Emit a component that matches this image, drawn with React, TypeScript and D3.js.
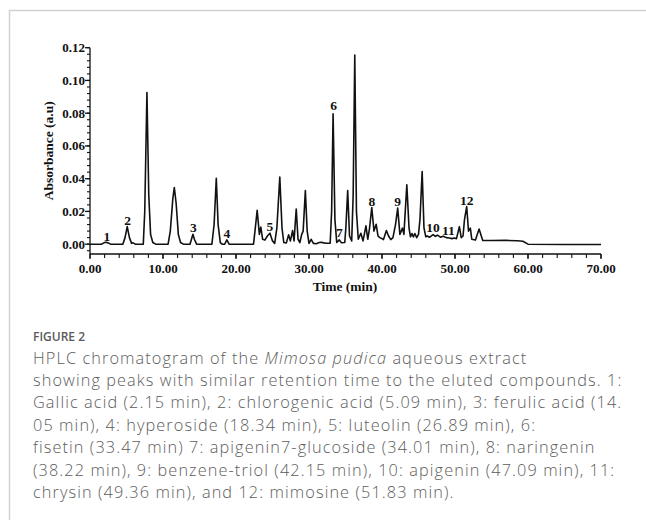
import React, { useEffect, useRef } from "react";
import * as d3 from "d3";

// chromatogram trace, [time (min), absorbance (a.u)]
const trace: [number, number][] = [
  [0, 0], [1.6, 0], [1.9, 0.0008], [2.15, 0.0012], [2.5, 0.0008], [2.8, 0],
  [4.5, 0], [4.8, 0.004], [5.1, 0.0107], [5.4, 0.004], [5.7, 0.0005], [5.9, 0.0008], [6.2, 0],
  [7.3, 0], [7.5, 0.02], [7.8, 0.0926], [8.05, 0.03], [8.3, 0.006], [8.6, 0.001], [9.0, 0],
  [10.7, 0], [11.0, 0.008], [11.35, 0.028], [11.55, 0.0346], [11.8, 0.025], [12.1, 0.006], [12.4, 0.001], [12.8, 0],
  [13.7, 0], [13.9, 0.003], [14.1, 0.006], [14.3, 0.003], [14.6, 0],
  [16.7, 0], [17.0, 0.012], [17.3, 0.0403], [17.55, 0.012], [17.85, 0.001], [18.1, 0],
  [18.45, 0], [18.75, 0.0026], [19.05, 0],
  [22.4, 0], [22.6, 0.008], [22.9, 0.0207], [23.2, 0.006], [23.4, 0.0104], [23.65, 0.003],
  [23.95, 0.0025], [24.3, 0.005], [24.65, 0.0067], [25.0, 0.002], [25.3, 0.0005],
  [25.6, 0.01], [26.0, 0.041], [26.3, 0.01], [26.55, 0.001], [26.9, 0.0008], [27.2, 0.0057],
  [27.45, 0.002], [27.75, 0.0083], [27.95, 0.002], [28.25, 0.0214], [28.5, 0.003], [28.75, 0.001],
  [29.0, 0.006], [29.2, 0.008], [29.5, 0.0327], [29.75, 0.008], [30.0, 0.0005], [30.3, 0.003],
  [30.6, 0.0005], [31.0, 0.0003], [31.4, 0.001], [31.7, 0.0012], [32.0, 0.0008], [32.4, 0.0006],
  [32.9, 0.0006], [33.1, 0.02], [33.3, 0.0796], [33.55, 0.015], [33.8, 0.001], [34.15, 0.0026],
  [34.45, 0.0009], [34.9, 0.001], [35.05, 0.01], [35.3, 0.0327], [35.55, 0.005], [35.85, 0.002],
  [36.05, 0.03], [36.27, 0.1155], [36.5, 0.02], [36.75, 0.003], [37.1, 0.0067], [37.4, 0.002],
  [37.8, 0.0112], [38.05, 0.003], [38.3, 0.01], [38.6, 0.0224], [38.9, 0.008], [39.2, 0.0122],
  [39.45, 0.005], [39.7, 0.004], [39.95, 0.0035], [40.2, 0.0028], [40.6, 0.0083], [40.9, 0.005],
  [41.2, 0.0028], [41.5, 0.004], [41.85, 0.012], [42.15, 0.022], [42.45, 0.006], [42.8, 0.0098],
  [43.0, 0.006], [43.4, 0.0362], [43.7, 0.01], [43.9, 0.0045], [44.1, 0.0065], [44.3, 0.0045],
  [44.5, 0.0065], [44.75, 0.004], [45.0, 0.006], [45.2, 0.015], [45.5, 0.0444], [45.75, 0.01],
  [46.0, 0.0045], [46.2, 0.005], [46.5, 0.0042], [47.0, 0.0058], [47.3, 0.0048], [47.6, 0.0055],
  [48.0, 0.0043], [48.4, 0.0048], [48.8, 0.004], [49.2, 0.0038], [49.6, 0.0034], [49.9, 0.0038],
  [50.2, 0.0034], [50.6, 0.0107], [50.85, 0.004], [51.1, 0.005], [51.3, 0.015], [51.6, 0.023],
  [51.85, 0.008], [52.1, 0.0098], [52.3, 0.003], [52.8, 0.0025], [53.3, 0.0093], [53.8, 0.0022],
  [55, 0.0022], [57, 0.0023], [58.5, 0.0021], [59.3, 0.0018], [60.0, 0], [65, -0.0002], [70, -0.0002],
];

const peakLabels = ["1", "2", "3", "4", "5", "6", "7", "8", "9", "10", "11", "12"];
const peakLabelTime = [2.3, 5.16, 14.15, 18.75, 24.65, 33.37, 34.15, 38.6, 42.15, 47.0, 49.1, 51.6];
const peakLabelAbs = [0.002, 0.0115, 0.0072, 0.0035, 0.0078, 0.0817, 0.0045, 0.0234, 0.0234, 0.0075, 0.0057, 0.024];

const xMajorTicks = [0, 10, 20, 30, 40, 50, 60, 70];
const yMajorTicks = [0, 0.02, 0.04, 0.06, 0.08, 0.1, 0.12];

// caption lines: [text, italic]
const captionLines: [string, boolean][][] = [
  [["HPLC chromatogram of the ", false], ["Mimosa pudica", true], [" aqueous extract", false]],
  [["showing peaks with similar retention time to the eluted compounds. 1:", false]],
  [["Gallic acid (2.15 min), 2: chlorogenic acid (5.09 min), 3: ferulic acid (14.", false]],
  [["05 min), 4: hyperoside (18.34 min), 5: luteolin (26.89 min), 6:", false]],
  [["fisetin (33.47 min) 7: apigenin7-glucoside (34.01 min), 8: naringenin", false]],
  [["(38.22 min), 9: benzene-triol (42.15 min), 10: apigenin (47.09 min), 11:", false]],
  [["chrysin (49.36 min), and 12: mimosine (51.83 min).", false]],
];

const W = 646;
const H = 520;

const App: React.FC = () => {
  const svgRef = useRef<SVGSVGElement>(null);

  useEffect(() => {
    if (!svgRef.current) return;
    const svg = d3.select(svgRef.current);
    svg.selectAll("*").remove();

    const serif = "'Liberation Serif', 'Times New Roman', serif";

    // figure frame (top and left edges)
    svg.append("path")
      .attr("d", `M9.5,${H} V10.5 H${W}`)
      .attr("fill", "none")
      .attr("stroke", "#d2d2d2")
      .attr("stroke-width", 1.5);

    const x = d3.scaleLinear().domain([0, 70]).range([90, 601]);
    const y = d3.scaleLinear().domain([-0.006, 0.12]).range([254, 47.7]);

    const g = svg.append("g");

    // x axis
    g.append("line")
      .attr("x1", x(0)).attr("x2", x(70))
      .attr("y1", y(-0.006)).attr("y2", y(-0.006))
      .attr("stroke", "#111").attr("stroke-width", 1.3);
    g.selectAll(".xminor")
      .data(d3.range(0, 70.01, 2))
      .join("line")
      .attr("x1", (d) => x(d)).attr("x2", (d) => x(d))
      .attr("y1", y(-0.006)).attr("y2", y(-0.006) + 4)
      .attr("stroke", "#111").attr("stroke-width", 1.1);
    g.selectAll(".xmajor")
      .data(xMajorTicks)
      .join("line")
      .attr("x1", (d) => x(d)).attr("x2", (d) => x(d))
      .attr("y1", y(-0.006)).attr("y2", y(-0.006) + 5)
      .attr("stroke", "#111").attr("stroke-width", 1.3);
    g.selectAll(".xlab")
      .data(xMajorTicks)
      .join("text")
      .attr("x", (d) => x(d))
      .attr("y", 272.5)
      .attr("text-anchor", "middle")
      .style("font-family", serif)
      .style("font-weight", "bold")
      .style("font-size", "13px")
      .style("fill", "#111")
      .text((d) => d3.format(".2f")(d));

    // y axis
    g.append("line")
      .attr("x1", x(0)).attr("x2", x(0))
      .attr("y1", y(0.12)).attr("y2", y(-0.006))
      .attr("stroke", "#111").attr("stroke-width", 1.3);
    g.selectAll(".yminor")
      .data(d3.range(-0.004, 0.1201, 0.004))
      .join("line")
      .attr("x1", x(0) - 3).attr("x2", x(0))
      .attr("y1", (d) => y(d)).attr("y2", (d) => y(d))
      .attr("stroke", "#111").attr("stroke-width", 1.1);
    g.selectAll(".ymajor")
      .data(yMajorTicks)
      .join("line")
      .attr("x1", x(0) - 5).attr("x2", x(0))
      .attr("y1", (d) => y(d)).attr("y2", (d) => y(d))
      .attr("stroke", "#111").attr("stroke-width", 1.3);
    g.selectAll(".ylab")
      .data(yMajorTicks)
      .join("text")
      .attr("x", x(0) - 5)
      .attr("y", (d) => y(d) + 4.4)
      .attr("text-anchor", "end")
      .style("font-family", serif)
      .style("font-weight", "bold")
      .style("font-size", "13px")
      .style("fill", "#111")
      .text((d) => d3.format(".2f")(d));

    // axis titles
    g.append("text")
      .attr("transform", `translate(53, ${y(0.057)}) rotate(-90)`)
      .attr("text-anchor", "middle")
      .style("font-family", serif)
      .style("font-weight", "bold")
      .style("font-size", "13.5px")
      .style("fill", "#111")
      .text("Absorbance (a.u)");
    g.append("text")
      .attr("x", 345)
      .attr("y", 290.5)
      .attr("text-anchor", "middle")
      .style("font-family", serif)
      .style("font-weight", "bold")
      .style("font-size", "13.5px")
      .style("fill", "#111")
      .text("Time (min)");

    // trace
    const line = d3
      .line<[number, number]>()
      .x((d) => x(d[0]))
      .y((d) => y(d[1]));
    g.append("path")
      .attr("d", line(trace) || "")
      .attr("fill", "none")
      .attr("stroke", "#111")
      .attr("stroke-width", 1.6)
      .attr("stroke-linejoin", "round");

    // peak numbers
    g.selectAll(".plab")
      .data(peakLabels)
      .join("text")
      .attr("x", (_, i) => x(peakLabelTime[i]))
      .attr("y", (_, i) => y(peakLabelAbs[i]))
      .attr("text-anchor", "middle")
      .style("font-family", serif)
      .style("font-weight", "bold")
      .style("font-size", "13.5px")
      .style("fill", "#111")
      .text((d) => d);

    // caption
    const sans = "'Open Sans', 'Noto Sans', sans-serif";
    svg.append("text")
      .attr("x", 33)
      .attr("y", 341)
      .style("font-family", sans)
      .style("font-weight", 600)
      .style("font-size", "12px")
      .style("fill", "#5a5a5a")
      .text("FIGURE 2");

    captionLines.forEach((segs, i) => {
      const t = svg.append("text")
        .attr("x", 33)
        .attr("y", 363.5 + i * 22.4)
        .style("font-family", sans)
        .style("font-weight", 300)
        .style("font-size", "16.3px")
        .style("letter-spacing", "1.1px")
        .style("fill", "#5c5c5c");
      segs.forEach(([s, it]) => {
        t.append("tspan")
          .style("font-style", it ? "italic" : "normal")
          .text(s);
      });
    });
  }, []);

  return (
    <svg
      ref={svgRef}
      width={W}
      height={H}
      style={{ position: "absolute", left: 0, top: 0, background: "#fff" }}
    />
  );
};

export default App;
